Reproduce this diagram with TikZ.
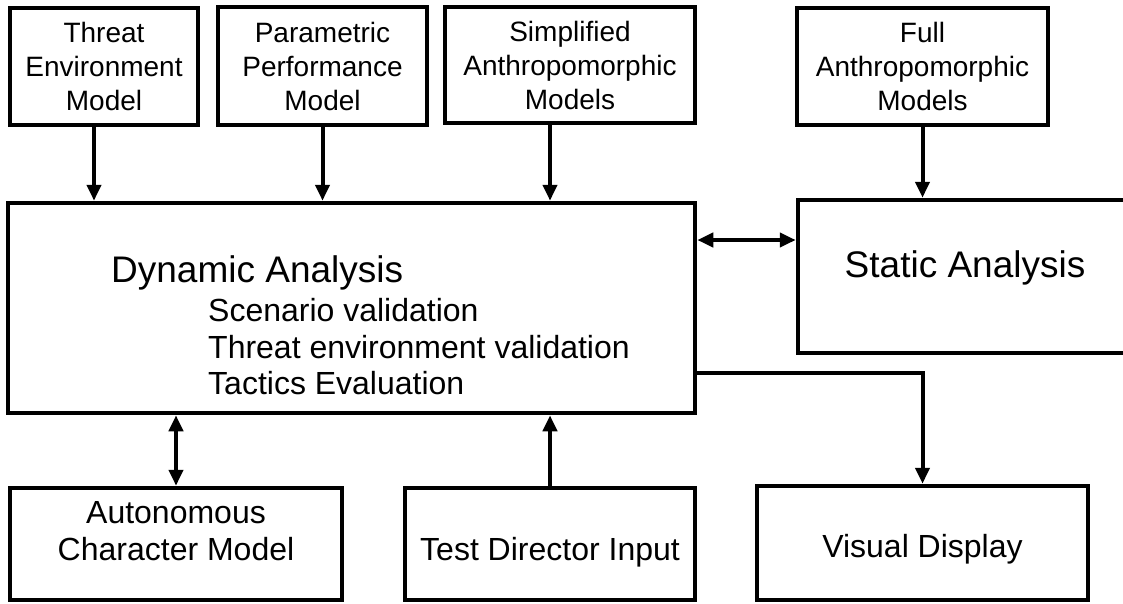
\documentclass[tikz,border=0pt]{standalone}
\usepackage{fontspec}
\setmainfont{Liberation Sans}
\usetikzlibrary{arrows.meta}
\begin{document}
\begin{tikzpicture}[x=1pt,y=-1pt,
  box/.style={draw, line width=4.5pt, inner sep=0pt, align=center},
  topbox/.style={box, font=\fontsize{28}{34}\selectfont},
  conn/.style={line width=4pt, -{Triangle[length=16pt,width=14pt]}},
  twoway/.style={line width=4pt, {Triangle[length=16pt,width=14pt]}-{Triangle[length=16pt,width=14pt]}},
  lbl/.style={inner sep=0pt, anchor=base},
  lblw/.style={inner sep=0pt, anchor=base west},
  big/.style={font=\fontsize{37}{44}\selectfont},
  mid/.style={font=\fontsize{32}{37}\selectfont},
]
\useasboundingbox (0,0) rectangle (1123,603);
\fill[white] (0,0) rectangle (1123,603);
\clip (0,0) rectangle (1123,603);

% model sources along the top
\node[topbox, minimum width=188pt, minimum height=117pt] (threat) at (104,66.5)
  {Threat\\Environment\\Model};
\node[topbox, minimum width=209pt, minimum height=118pt] (param) at (322.5,66)
  {Parametric\\Performance\\Model};
\node[topbox, minimum width=250pt, minimum height=116pt] (simp) at (570,65)
  {Simplified\\Anthropomorphic\\Models};
\node[topbox, minimum width=251pt, minimum height=117pt] (full) at (922.5,66.5)
  {Full\\Anthropomorphic\\Models};

% analysis blocks
\node[box, minimum width=687pt, minimum height=210pt] (dyn) at (351.5,308) {};
\node[lblw, big] (dyntitle) at (111,282) {Dynamic Analysis};
\node[lblw, mid] (dynA) at (208,321) {Scenario validation};
\node[lblw, mid] (dynB) at (208,358) {Threat environment validation};
\node[lblw, mid] (dynC) at (208,394) {Tactics Evaluation};

\node[box, minimum width=337pt, minimum height=153pt] (stat) at (966.5,276.5) {};
\node[lbl, big] (stattext) at (965,277) {Static Analysis};

% bottom row
\node[box, minimum width=332pt, minimum height=112pt] (auto) at (176,544) {};
\node[lbl, mid] (autoA) at (176,523) {Autonomous};
\node[lbl, mid] (autoB) at (176,560) {Character Model};

\node[box, minimum width=290pt, minimum height=112pt] (test) at (550,544) {};
\node[lbl, mid] (testtext) at (550,560) {Test Director Input};

\node[box, minimum width=331pt, minimum height=114pt] (vis) at (922.5,543) {};
\node[lbl, mid] (vistext) at (922.5,557) {Visual Display};

% connectors
\draw[conn] ([xshift=-10pt]threat.south) -- ([xshift=-10pt]threat.south |- dyn.north);
\draw[conn] (param.south) -- (param.south |- dyn.north);
\draw[conn] ([xshift=-20pt]simp.south) -- ([xshift=-20pt]simp.south |- dyn.north);
\draw[conn] (full.south) -- (full.south |- stat.north);
\draw[twoway] ([yshift=36.5pt]stat.west) -- ([yshift=36.5pt]stat.west -| dyn.east);
\draw[conn] ([yshift=-65pt]dyn.east) -| (vis.north);
\draw[twoway] (auto.north) -- (auto.north |- dyn.south);
\draw[conn] (test.north) -- (test.north |- dyn.south);
\end{tikzpicture}
\end{document}
